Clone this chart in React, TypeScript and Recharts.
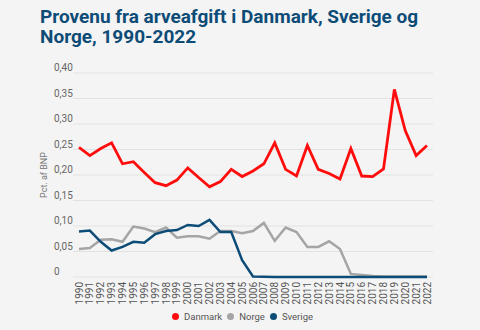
import React from 'react';
import { LineChart, Line, XAxis, YAxis, CartesianGrid } from 'recharts';

const years = [
  '1990', '1991', '1992', '1993', '1994', '1995', '1996', '1997', '1998', '1999',
  '2000', '2001', '2002', '2003', '2004', '2005', '2006', '2007', '2008', '2009',
  '2010', '2011', '2012', '2013', '2014', '2015', '2016', '2017', '2018', '2019',
  '2020', '2021', '2022',
];

const danmark = [
  0.254, 0.238, 0.252, 0.263, 0.222, 0.226, 0.205, 0.185, 0.179, 0.19,
  0.214, 0.195, 0.177, 0.187, 0.211, 0.197, 0.208, 0.222, 0.263, 0.211,
  0.198, 0.258, 0.211, 0.203, 0.192, 0.252, 0.198, 0.197, 0.212, 0.368,
  0.287, 0.238, 0.258,
];

const norge = [
  0.055, 0.057, 0.073, 0.074, 0.069, 0.099, 0.095, 0.088, 0.097, 0.077,
  0.08, 0.08, 0.075, 0.09, 0.09, 0.086, 0.09, 0.106, 0.071, 0.097,
  0.088, 0.059, 0.059, 0.07, 0.055, 0.006, 0.004, 0.002, 0.001, 0.001,
  0.001, 0.001, 0.001,
];

const sverige = [
  0.089, 0.091, 0.069, 0.052, 0.059, 0.069, 0.067, 0.084, 0.09, 0.092,
  0.102, 0.1, 0.112, 0.088, 0.088, 0.033, 0.001, 0.0005, 0, 0,
  0, 0, 0, 0, 0, 0, 0, 0, 0, 0,
  0, 0, 0,
];

const yTicks = [0, 0.05, 0.1, 0.15, 0.2, 0.25, 0.3, 0.35, 0.4];

const RED = '#ff0d0d';
const GRAY = '#a5a5a5';
const BLUE = '#0d4c77';
const FONT = 'Roboto, "Noto Sans", sans-serif';

const data = years.map((year, i) => ({
  year,
  Danmark: danmark[i],
  Norge: norge[i],
  Sverige: sverige[i],
}));

const fmt = (v: number) => (v === 0 ? '0' : v.toFixed(2).replace('.', ','));

// eslint-disable-next-line @typescript-eslint/no-explicit-any
const YTick = (props: any) => {
  const { y, payload } = props;
  return (
    <text x={54} y={y} dy={-2} fill="#666" fontSize={10} fontFamily={FONT} textAnchor="start">
      {fmt(payload.value)}
    </text>
  );
};

// eslint-disable-next-line @typescript-eslint/no-explicit-any
const XTick = (props: any) => {
  const { x, payload } = props;
  return (
    <text
      transform={`translate(${x},282) rotate(-90)`}
      dy={3.5}
      fill="#555"
      fontSize={10}
      fontFamily={FONT}
      textAnchor="end"
    >
      {payload.value}
    </text>
  );
};

const legendItems = [
  { name: 'Danmark', color: RED },
  { name: 'Norge', color: GRAY },
  { name: 'Sverige', color: BLUE },
];

const App = () => {
  return (
    <div style={{ position: 'fixed', left: 0, top: 0, width: 480, height: 330, background: '#f4f4f4', fontFamily: FONT }}>
      <div style={{ position: 'absolute', left: 40, top: 7, width: 420, color: '#0d4c77', fontSize: 19, fontWeight: 700, lineHeight: '20px' }}>
        Provenu fra arveafgift i Danmark, Sverige og Norge, 1990-2022
      </div>
      <div style={{ position: 'absolute', left: 0, top: 0 }}>
        <LineChart width={480} height={330} data={data} margin={{ top: 73, right: 47, left: 0, bottom: 23 }}>
          <CartesianGrid vertical={false} stroke="#e2e2e2" strokeWidth={1} />
          <XAxis
            dataKey="year"
            interval={0}
            height={30}
            tick={<XTick />}
            tickLine={false}
            axisLine={false}
            padding={{ left: 6, right: 6 }}
          />
          <YAxis
            domain={[0, 0.4]}
            ticks={yTicks}
            width={73}
            tick={<YTick />}
            tickLine={false}
            axisLine={false}
          />
          <Line type="linear" dataKey="Norge" stroke={GRAY} strokeWidth={2.5} dot={false} isAnimationActive={false} />
          <Line type="linear" dataKey="Sverige" stroke={BLUE} strokeWidth={2.5} dot={false} isAnimationActive={false} />
          <Line type="linear" dataKey="Danmark" stroke={RED} strokeWidth={2.8} dot={false} isAnimationActive={false} />
          <text
            transform="translate(47,175) rotate(-90)"
            fill="#777"
            fontSize={9}
            fontFamily={FONT}
            textAnchor="middle"
          >
            Pct. af BNP
          </text>
        </LineChart>
      </div>
      <div style={{ position: 'absolute', left: 172, top: 311, display: 'flex', fontSize: 9.5, color: '#555' }}>
        {legendItems.map((item) => (
          <div key={item.name} style={{ display: 'flex', alignItems: 'center', marginRight: 5 }}>
            <span style={{ width: 7, height: 7, borderRadius: '50%', background: item.color, display: 'inline-block', marginRight: 5 }} />
            <span>{item.name}</span>
          </div>
        ))}
      </div>
    </div>
  );
};

export default App;
